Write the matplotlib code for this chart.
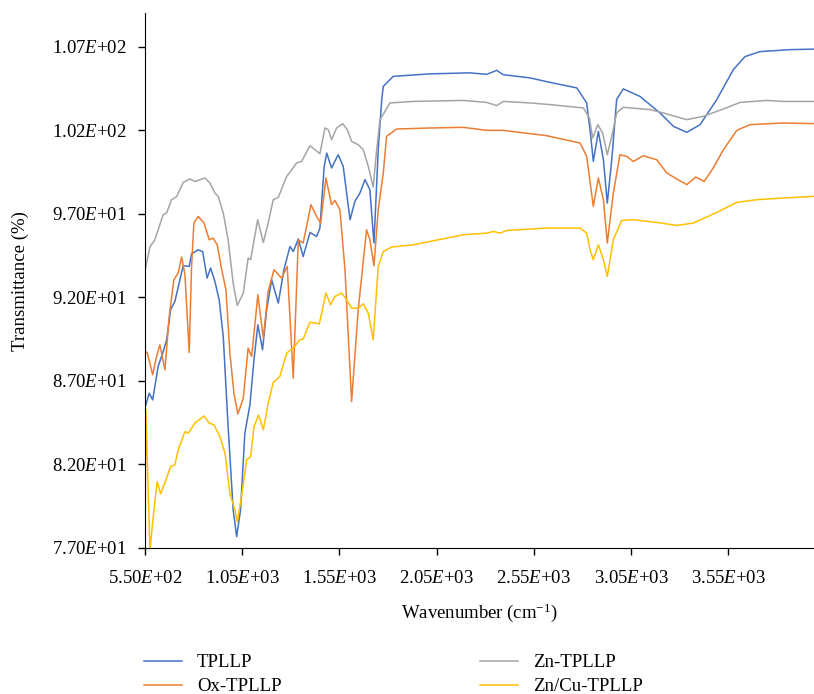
import matplotlib
matplotlib.use("Agg")
import matplotlib.pyplot as plt

plt.rcParams['font.family'] = ['Liberation Serif', 'DejaVu Serif']
plt.rcParams['mathtext.fontset'] = 'custom'
plt.rcParams['mathtext.rm'] = 'Liberation Serif'
plt.rcParams['mathtext.it'] = 'Liberation Serif:italic'

# FTIR spectra (wavenumber cm-1, transmittance %)
wn_tpllp = [550, 572, 590, 618, 644, 662, 682, 704, 747, 778, 790, 824, 847, 870, 888, 910, 932, 953,
            978, 1004, 1022, 1042, 1064, 1090, 1111, 1131, 1155, 1176, 1202, 1236, 1265, 1296, 1313,
            1339, 1364, 1399, 1433, 1450, 1472, 1485, 1510, 1544, 1570, 1605, 1630, 1656, 1682, 1707,
            1728, 1750, 1768, 1776, 1827, 2016, 2222, 2308, 2359, 2393, 2530, 2633, 2771, 2822, 2843,
            2856, 2882, 2908, 2928, 2951, 2976, 3010, 3096, 3199, 3268, 3337, 3405, 3491, 3576, 3636,
            3713, 3868, 3991]
tr_tpllp = [85.37, 86.26, 85.86, 87.86, 88.75, 89.46, 91.25, 91.75, 93.89, 93.85, 94.60, 94.84, 94.74,
            93.15, 93.75, 92.95, 91.85, 89.65, 84.26, 79.28, 77.68, 79.28, 83.87, 85.56, 88.26, 90.35,
            88.86, 91.25, 93.05, 91.65, 93.65, 95.04, 94.74, 95.49, 94.44, 95.88, 95.64, 96.14, 99.83,
            100.63, 99.74, 100.53, 99.83, 96.64, 97.74, 98.24, 99.04, 98.44, 95.25, 100.83, 103.83,
            104.62, 105.22, 105.37, 105.43, 105.34, 105.58, 105.32, 105.13, 104.86, 104.53, 103.63,
            101.63, 100.13, 101.93, 100.23, 97.64, 100.23, 103.83, 104.47, 104.02, 103.03, 102.23,
            101.87, 102.33, 103.83, 105.62, 106.40, 106.70, 106.82, 106.85]

wn_ox = [550, 562, 590, 610, 627, 653, 675, 699, 721, 739, 756, 778, 790, 802, 824, 854, 881, 901, 922,
         945, 967, 987, 1008, 1028, 1056, 1081, 1099, 1131, 1159, 1184, 1214, 1253, 1282, 1313, 1339,
         1364, 1404, 1433, 1454, 1481, 1510, 1527, 1553, 1579, 1613, 1647, 1690, 1707, 1728, 1750, 1776,
         1793, 1845, 2016, 2187, 2308, 2393, 2616, 2788, 2822, 2856, 2882, 2908, 2928, 2959, 2993, 3028,
         3062, 3113, 3182, 3234, 3285, 3337, 3383, 3426, 3473, 3525, 3594, 3662, 3833, 3991]
tr_ox = [88.75, 88.70, 87.36, 88.46, 89.16, 87.66, 90.85, 93.05, 93.45, 94.41, 93.35, 88.70, 93.84,
         96.44, 96.84, 96.44, 95.44, 95.54, 95.14, 93.65, 92.45, 88.66, 86.26, 85.02, 85.96, 88.96,
         88.46, 92.15, 89.56, 92.35, 93.65, 93.15, 93.84, 87.16, 95.44, 95.25, 97.54, 96.84, 96.44,
         99.14, 97.54, 97.80, 97.24, 93.65, 85.76, 91.25, 96.04, 95.44, 93.89, 97.24, 99.44, 101.63,
         102.07, 102.13, 102.17, 101.99, 101.99, 101.67, 101.23, 100.43, 97.44, 99.14, 97.84, 95.25,
         98.24, 100.53, 100.43, 100.13, 100.47, 100.23, 99.44, 99.08, 98.74, 99.20, 98.93, 99.74,
         100.83, 101.99, 102.33, 102.43, 102.39]

wn_zn = [550, 576, 601, 644, 662, 687, 713, 747, 781, 807, 859, 884, 910, 927, 953, 978, 1004, 1025,
         1056, 1081, 1094, 1130, 1159, 1184, 1210, 1236, 1279, 1305, 1330, 1356, 1399, 1450, 1476, 1493,
         1510, 1536, 1567, 1591, 1613, 1647, 1673, 1699, 1724, 1742, 1759, 1785, 1810, 1930, 2187, 2308,
         2359, 2393, 2530, 2633, 2805, 2836, 2853, 2879, 2904, 2928, 2951, 2976, 3010, 3148, 3216, 3336,
         3422, 3525, 3611, 3748, 3833, 3991]
tr_zn = [93.55, 95.02, 95.44, 96.94, 97.06, 97.84, 98.02, 98.87, 99.08, 98.93, 99.14, 98.84, 98.24,
         98.04, 97.04, 95.44, 92.85, 91.51, 92.25, 94.35, 94.25, 96.64, 95.28, 96.44, 97.84, 97.98,
         99.23, 99.63, 100.04, 100.13, 101.07, 100.59, 102.13, 102.03, 101.43, 102.13, 102.39, 102.03,
         101.33, 101.13, 100.83, 99.83, 98.60, 100.83, 102.63, 103.13, 103.63, 103.72, 103.78, 103.66,
         103.47, 103.72, 103.63, 103.53, 103.33, 102.73, 101.53, 102.33, 101.83, 100.53, 101.63,
         103.03, 103.37, 103.23, 103.03, 102.63, 102.83, 103.27, 103.66, 103.78, 103.72, 103.72]

wn_zncu = [550, 555, 576, 590, 613, 631, 658, 682, 704, 721, 756, 773, 807, 854, 881, 905, 936, 962,
           987, 1013, 1025, 1047, 1073, 1094, 1111, 1135, 1159, 1184, 1210, 1244, 1279, 1313, 1347, 1364,
           1399, 1447, 1481, 1505, 1527, 1562, 1588, 1613, 1647, 1673, 1699, 1724, 1750, 1776, 1819, 1930,
           2016, 2187, 2308, 2342, 2376, 2411, 2616, 2788, 2822, 2839, 2856, 2882, 2908, 2928, 2959, 3002,
           3062, 3182, 3285, 3370, 3491, 3594, 3697, 3833, 3991]
tr_zncu = [76.8, 85.26, 76.8, 78.57, 80.97, 80.23, 81.07, 81.87, 81.97, 82.87, 83.96, 83.87, 84.47,
           84.90, 84.47, 84.37, 83.66, 82.67, 80.28, 79.28, 78.57, 80.07, 82.27, 82.47, 84.26, 84.96,
           84.07, 85.66, 86.90, 87.26, 88.66, 88.96, 89.46, 89.50, 90.51, 90.41, 92.25, 91.55, 92.05,
           92.25, 91.85, 91.35, 91.35, 91.61, 91.05, 89.46, 93.84, 94.74, 95.01, 95.14, 95.34, 95.74,
           95.84, 95.94, 95.84, 96.00, 96.14, 96.14, 95.84, 94.84, 94.25, 95.14, 94.25, 93.25, 95.44,
           96.60, 96.64, 96.48, 96.30, 96.44, 97.08, 97.68, 97.84, 97.94, 98.04]

series_names = ['TPLLP', 'Ox-TPLLP', 'Zn-TPLLP', 'Zn/Cu-TPLLP']
colors = ['#4472C4', '#ED7D31', '#A5A5A5', '#FFC000']

x_ticks = [550, 1050, 1550, 2050, 2550, 3050, 3550]
x_ticklabels = ['5.50$E$+02', '1.05$E$+03', '1.55$E$+03', '2.05$E$+03', '2.55$E$+03', '3.05$E$+03', '3.55$E$+03']
y_ticks = [77, 82, 87, 92, 97, 102, 107]
y_ticklabels = ['7.70$E$+01', '8.20$E$+01', '8.70$E$+01', '9.20$E$+01', '9.70$E$+01', '1.02$E$+02', '1.07$E$+02']

fig = plt.figure(figsize=(8.14, 6.94), dpi=100)
ax = fig.add_axes([0.178, 0.2104, 0.822, 0.7706])

data = [(wn_tpllp, tr_tpllp), (wn_ox, tr_ox), (wn_zn, tr_zn), (wn_zncu, tr_zncu)]
lines = []
for (wx, ty), name, c in zip(data, series_names, colors):
    ln, = ax.plot(wx, ty, color=c, lw=1.1, label=name, solid_joinstyle='round')
    lines.append(ln)

ax.set_xlim(550, 3991)
ax.set_ylim(77, 109)
ax.set_xticks(x_ticks)
ax.set_xticklabels(x_ticklabels, fontsize=13.5)
ax.set_yticks(y_ticks)
ax.set_yticklabels(y_ticklabels, fontsize=13.5)
ax.tick_params(direction='out', length=5, width=1)
ax.tick_params(axis='x', pad=11)
ax.tick_params(axis='y', pad=8)
ax.spines['top'].set_visible(False)
ax.spines['right'].set_visible(False)
ax.set_xlabel('Wavenumber (cm$^{-1}$)', fontsize=13.5, labelpad=10)
ax.set_ylabel('Transmittance (%)', fontsize=13.5, labelpad=17)

fig.legend(handles=lines, loc='upper left', bbox_to_anchor=(0.168, 0.068), ncol=2,
           frameon=False, fontsize=13.5, handlelength=2.0, columnspacing=10.6,
           labelspacing=0.35, borderaxespad=0)

fig.savefig('out.png', dpi=100)
